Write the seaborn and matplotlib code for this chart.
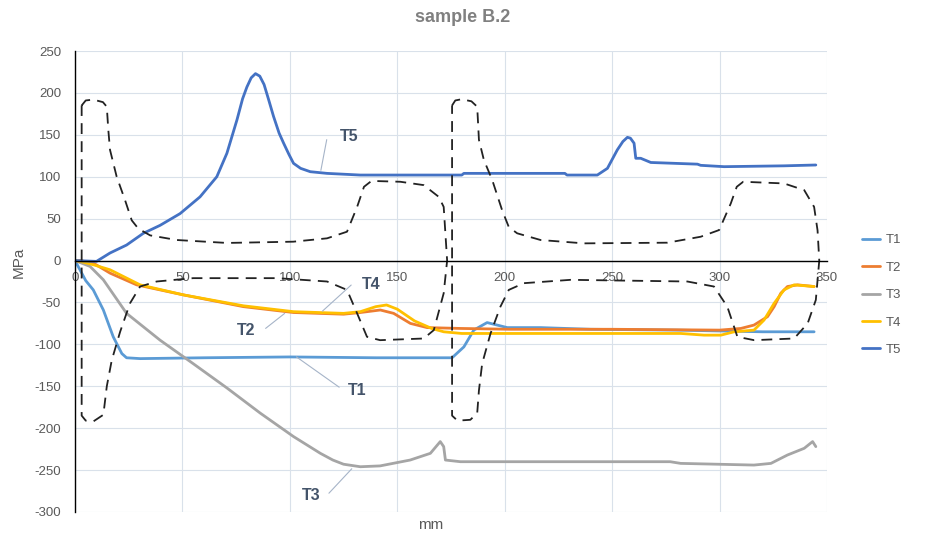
import pandas as pd
import matplotlib.pyplot as plt
import seaborn as sns

# measured stress lines (mm, MPa)
t1_x = [0, 2.3, 5, 8.5, 13.2, 17.8, 21.8, 24, 30.3, 60, 100, 140, 175.5, 181, 185.6, 191.8, 196.5,
        201.2, 216.7, 240, 280, 300, 320, 344]
t1_y = [0, -11, -24, -35, -59, -91, -111, -116, -117, -116, -115, -116, -116, -103, -83, -74, -77,
        -80, -80, -82, -83, -84, -85, -85]

t2_x = [0, 2.3, 8.5, 16.3, 28.7, 50.5, 78.4, 101.7, 125, 132.8, 142.1, 148.3, 156.1, 163.9,
        179.4, 202.7, 250, 300, 309.9, 316, 322.3, 325.4, 328.5, 331.6, 336.3, 344]
t2_y = [0, 0, -3, -15, -29, -41, -55, -62, -64, -62, -59, -63, -75, -80,
        -81, -82, -82, -83, -81, -77, -67, -55, -39, -31, -29, -31]

t3_x = [0, 7, 13.2, 24, 39.6, 55, 70.7, 86.2, 101.7, 114.2, 120, 125, 132.8, 142, 156, 165.4, 170,
        171.6, 172.4, 179.4, 230, 277, 281.9, 316, 323.9, 331.6, 339.4, 343.3, 344.8]
t3_y = [0, -7, -23, -63, -95, -123, -152, -182, -210, -230, -238, -243, -246, -245, -238, -230, -216,
        -222, -238, -240, -240, -240, -242, -244, -242, -232, -224, -216, -222]

t4_x = [0, 2.3, 8.5, 16.3, 30.3, 50.5, 78.4, 101.7, 125, 132.8, 140, 145, 150, 158, 166, 171.6,
        180, 230, 282, 292.8, 300.6, 306.8, 316, 320.7, 325.4, 330, 334.7, 344]
t4_y = [0, -1, -5, -11, -29, -41, -54, -61, -63, -61, -55, -53, -58, -72, -81, -85,
        -87, -87, -87, -89, -89, -85, -83, -71, -51, -35, -29, -31]

t5_x = [0, 10, 16.3, 24, 31.8, 39.6, 48.9, 58.2, 66, 70.7, 75.4, 78, 80, 82, 84, 86, 88, 90,
        92.4, 95, 97.1, 99.5, 101.7, 105, 109.5, 117.3, 132.8, 180, 181, 228, 229, 241, 243.1,
        247.8, 252.4, 255, 257.1, 258.5, 260.2, 261, 263.3, 268, 289.7, 291.2, 302.1, 330, 344.8]
t5_y = [0, -1, 9, 18.5, 32.5, 42, 56, 76, 100, 128, 168, 193, 207, 218, 223, 220, 210, 193,
        172, 152, 140, 127, 116, 110, 106, 104, 102, 102, 104, 104, 102, 102, 102,
        110, 132, 142, 147, 146, 140, 122, 122, 117, 115, 113.6, 112, 113, 114]

# dashed outline drawn over the chart (two sections)
out1_x = [3.1, 5, 8.5, 13, 14.8, 15.5, 16.3, 19.4, 23.3, 26.4, 29.5, 35, 47.4, 70.7, 101.6,
          117.3, 126.6, 131.3, 134.5, 138, 151.4, 162.3, 169.3, 171.6, 173.2, 171.6, 167, 162.3,
          142, 135.9, 131.3, 126.6, 117.3, 94, 55, 38, 30.3, 25.6, 21, 17.1, 14.8, 13.2, 8.5,
          5, 3.1, 3.1]
out1_y = [185, 191, 192, 189, 183.5, 156, 132, 100, 72, 48, 38, 30, 24.5, 21, 22.5,
          26.5, 34.4, 64, 88, 95, 94, 90, 76, 64, 0, -39, -83, -93,
          -95, -91, -63, -35, -25, -21, -21, -25, -31, -51, -85, -119, -150, -184, -192,
          -191, -185, 185]

out2_x = [175.5, 177, 180, 184.5, 187.2, 188, 190.3, 194.2, 198.8, 201.9, 205.8, 216.7, 236.9,
          275.7, 291.2, 299.8, 305.2, 308, 311, 330, 339.4, 344, 345.6, 346.4, 344.8, 341, 334.7,
          316.1, 308.3, 303.6, 297.4, 285, 230.7, 208.9, 201.9, 198, 193.4, 189.5, 188, 187.2,
          184, 178, 175.5, 175.5]
out2_y = [185, 191, 192.5, 190, 183.5, 144, 120, 96, 60, 40, 32.5, 24.5, 20.5,
          21.3, 28.4, 36.4, 68, 88, 94, 92, 84, 64, 36, 0, -47, -75, -93,
          -95, -91, -55, -31, -25, -23, -27, -35, -55, -87, -123, -155, -182,
          -190, -191, -185, 185]

series = {'T1': (t1_x, t1_y), 'T2': (t2_x, t2_y), 'T3': (t3_x, t3_y),
          'T4': (t4_x, t4_y), 'T5': (t5_x, t5_y)}
colors = {'T1': '#5B9BD5', 'T2': '#ED7D31', 'T3': '#A5A5A5', 'T4': '#FFC000', 'T5': '#4472C4'}

rows = []
for name, (xs, ys) in series.items():
    for x, y in zip(xs, ys):
        rows.append({'mm': x, 'MPa': y, 'series': name})
df = pd.DataFrame(rows)

sns.set_theme(style='white')
plt.rcParams['font.family'] = ['Liberation Sans', 'DejaVu Sans']
plt.rcParams['axes.unicode_minus'] = False

fig = plt.figure(figsize=(9.29, 5.40), dpi=100)
ax = fig.add_axes([75 / 929, 28 / 540, 752 / 929, 461 / 540])

sns.lineplot(data=df, x='mm', y='MPa', hue='series', palette=colors,
             estimator=None, sort=False, linewidth=2, ax=ax)
handles, labels = ax.get_legend_handles_labels()
ax.get_legend().remove()

for ox, oy in [(out1_x, out1_y), (out2_x, out2_y)]:
    sns.lineplot(x=ox, y=oy, sort=False, estimator=None, color='#222222',
                 linewidth=1.3, dashes=False, ax=ax, legend=False,
                 linestyle=(0, (6, 4)))

ax.set_xlim(0, 350)
ax.set_ylim(-300, 250)
ax.set_xticks(range(0, 351, 50))
ax.set_yticks(range(-300, 251, 50))
ax.grid(True, color='#d9e1ea', linewidth=0.8)
ax.set_axisbelow(True)

for s in ['top', 'right']:
    ax.spines[s].set_visible(False)
ax.spines['bottom'].set_position(('data', 0))
ax.spines['bottom'].set_color('black')
ax.spines['left'].set_color('black')
ax.spines['bottom'].set_linewidth(1)
ax.spines['left'].set_linewidth(1)
ax.tick_params(axis='x', length=0, pad=8.5, labelsize=9.5, labelcolor='#595959')
ax.tick_params(axis='y', length=0, pad=10, labelsize=9.5, labelcolor='#595959')

ax.set_xlabel('mm', fontsize=11, color='#595959')
ax.xaxis.set_label_coords(0.473, -0.012)
ax.set_ylabel('MPa', fontsize=11, color='#595959')
ax.yaxis.set_label_coords(-0.066, 0.542)

fig.text(463 / 929, 1 - 18 / 540, 'sample B.2', ha='center', va='center',
         fontsize=13, fontweight='bold', color='#808080')

# callout labels with leader lines
callouts = [('T5', (123.2, 147.5), (114.2, 104.4), (117.4, 147.5)),
            ('T4', (133.7, -28), (114.2, -62.6), (129.5, -27)),
            ('T2', (75.5, -83), (98.6, -61), (87.7, -83)),
            ('T1', (127.2, -154.5), (102, -113), (124, -153)),
            ('T3', (105.8, -280), (129.7, -246), (117.3, -280))]
for label, txt, tip, start in callouts:
    ax.annotate('', xy=tip, xytext=start,
                arrowprops=dict(arrowstyle='-', color='#a6b4c8', linewidth=0.8))
    ax.text(txt[0], txt[1], label, ha='left', va='center', fontsize=11.5,
            fontweight='bold', color='#44546A')

fig.legend(handles, labels, loc='center left', bbox_to_anchor=(862 / 929, 1 - 295 / 540),
           frameon=False, fontsize=9.5, handlelength=1.4, handletextpad=0.4,
           labelspacing=1.15, borderpad=0, borderaxespad=0, labelcolor='#595959')

fig.savefig('out.png', dpi=100)
